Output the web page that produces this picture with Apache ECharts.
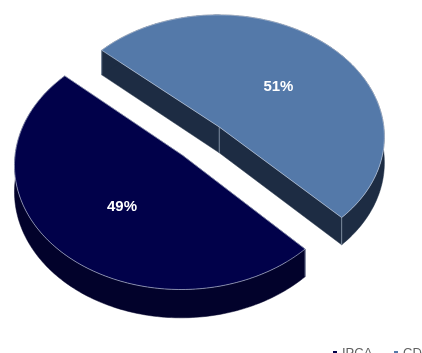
<!DOCTYPE html>
<html><head><meta charset="utf-8">
<script src="https://cdn.jsdelivr.net/npm/echarts@6/dist/echarts.min.js"></script>
<style>html,body{margin:0;padding:0;background:#fff}#c{width:422px;height:353px}</style>
</head><body><div id="c"></div>
<script>
// ---- data ----
const categories = ['IPCA', 'CDI'];
const values = [49, 51];
const topColors = ['#01014a', '#5479a9'];
const sideColors = ['#02022b', '#1d2c43'];

// ---- geometry / style constants ----
const total = values.reduce((a, b) => a + b, 0);
const START = 45.6;          // degrees, clockwise on screen
const CX = 201, CY = 141;    // pie centre (un-exploded)
const RX0 = 166, RY0 = 122.3, K = 0.073, DEPTH0 = 26, EXPLODE = 0.16, LABEL_R = 0.52, LABEL_DY = 4;

function sliceAngles(i) {
  let a = START;
  for (let k = 0; k < i; k++) a += values[k] / total * 360;
  return [a, a + values[i] / total * 360];
}
// simple perspective projection of the pie plane (u right, w toward viewer)
function proj(u, w) {
  const D = 1 - K * w;
  return [CX + RX0 * u / D, CY + RY0 * w / D, DEPTH0 / D];
}

function renderItem(params, api) {
  const i = api.value(0);
  const v = api.value(1);
  const top = topColors[i], side = sideColors[i];
  const [a0d, a1d] = sliceAngles(i);
  const a0 = a0d * Math.PI / 180, a1 = a1d * Math.PI / 180, mid = (a0 + a1) / 2;
  const ou = EXPLODE * Math.cos(mid), ow = EXPLODE * Math.sin(mid);
  const V = proj(ou, ow);
  const arc = [];
  const N = 160;
  for (let k = 0; k <= N; k++) {
    const t = a0 + (a1 - a0) * k / N;
    arc.push(proj(ou + Math.cos(t), ow + Math.sin(t)));
  }
  const xy = p => [p[0], p[1]];
  const down = p => [p[0], p[1] + p[2]];
  const sty = {fill: side, stroke: side, lineWidth: 0.5};
  const children = [];
  children.push({type: 'polygon', shape: {points: [xy(V), xy(arc[0]), down(arc[0]), down(V)]}, style: sty});
  children.push({type: 'polygon', shape: {points: [xy(V), xy(arc[N]), down(arc[N]), down(V)]}, style: sty});
  children.push({type: 'polygon', shape: {points: arc.map(xy).concat(arc.slice().reverse().map(down))}, style: sty});
  [V, arc[0], arc[N]].forEach(p => children.push({
    type: 'line', shape: {x1: p[0], y1: p[1], x2: p[0], y2: p[1] + p[2]},
    style: {stroke: 'rgba(190,205,225,0.7)', lineWidth: 0.8}
  }));
  children.push({type: 'polygon', shape: {points: [xy(V)].concat(arc.map(xy))},
    style: {fill: top, stroke: 'rgba(215,225,240,0.8)', lineWidth: 0.7}});
  const L = proj(ou + LABEL_R * Math.cos(mid), ow + LABEL_R * Math.sin(mid));
  children.push({type: 'text', style: {
    text: Math.round(v / total * 100) + '%',
    x: L[0] + 2, y: L[1] + LABEL_DY,
    fill: '#ffffff', font: 'bold 15px "Liberation Sans", Arial, sans-serif',
    align: 'center', verticalAlign: 'middle'
  }});
  return {type: 'group', children};
}

const legendBase = {
  top: 346, padding: 0, icon: 'rect', itemWidth: 4, itemHeight: 4,
  textStyle: {fontSize: 13, color: '#606060', fontFamily: '"Liberation Sans", Arial, sans-serif', lineHeight: 14}
};
const chart = echarts.init(document.getElementById('c'), null, {renderer: 'canvas'});
chart.setOption({
  animation: false,
  backgroundColor: '#ffffff',
  legend: [
    Object.assign({}, legendBase, {data: [categories[0]], left: 333}),
    Object.assign({}, legendBase, {data: [categories[1]], left: 394})
  ],
  series: [1, 0].map(i => ({
    type: 'custom', name: categories[i], coordinateSystem: 'none',
    renderItem, itemStyle: {color: topColors[i]},
    data: [[i, values[i]]]
  }))
});
</script></body></html>
